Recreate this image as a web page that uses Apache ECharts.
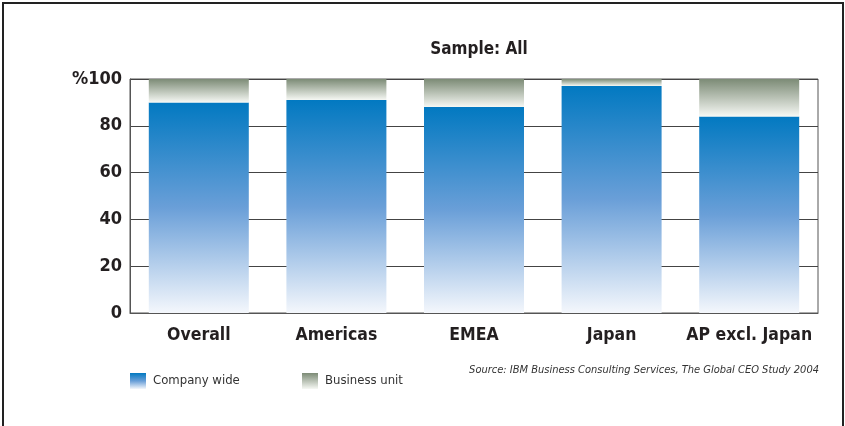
<!DOCTYPE html>
<html>
<head>
<meta charset="utf-8">
<script src="https://cdn.jsdelivr.net/npm/echarts@6/dist/echarts.min.js"></script>
<style>
html,body{margin:0;padding:0;background:#fff;}
#c{width:845px;height:426px;}
</style>
</head>
<body>
<div id="c"></div>
<script>
const categories = ['Overall', 'Americas', 'EMEA', 'Japan', 'AP excl. Japan'];
const companyWide = [90, 91, 88, 97, 84];
const businessUnit = [10, 9, 12, 3, 16];
const yTickLabels = ['0', '20', '40', '60', '80', '%100'];
const titleText = 'Sample: All';
const sourceText = 'Source: IBM Business Consulting Services, The Global CEO Study 2004';

const FONT = '"DejaVu Sans Condensed", "Liberation Sans Narrow", sans-serif';
const TXT = '#231f20';

const blueGrad = new echarts.graphic.LinearGradient(0, 0, 0, 1, [
  {offset: 0, color: '#0279c1'},
  {offset: 0.5, color: '#6a9fd8'},
  {offset: 1, color: '#f4f7fc'}
]);
const grayGrad = new echarts.graphic.LinearGradient(0, 0, 0, 1, [
  {offset: 0, color: '#7c8b76'},
  {offset: 1, color: '#f6f8f4'}
]);

const chart = echarts.init(document.getElementById('c'), null, {renderer: 'canvas'});
chart.setOption({
  animation: false,
  backgroundColor: '#fff',
  title: {
    text: titleText,
    left: 474,
    textAlign: 'center',
    top: 36,
    textStyle: {fontFamily: FONT, fontWeight: 'bold', fontSize: 17, color: TXT}
  },
  legend: [
    {
      data: ['Company wide'], left: 130, top: 373, padding: 0, itemWidth: 16, itemHeight: 16, itemGap: 0,
      icon: 'rect',
      textStyle: {fontFamily: FONT, fontSize: 13, color: '#333', padding: [6, 0, 0, 2]}
    },
    {
      data: ['Business unit'], left: 302, top: 373, padding: 0, itemWidth: 16, itemHeight: 16, itemGap: 0,
      icon: 'rect',
      textStyle: {fontFamily: FONT, fontSize: 13, color: '#333', padding: [6, 0, 0, 2]}
    }
  ],
  grid: {
    left: 130, right: 27, top: 79, bottom: 113,
    show: true, borderColor: '#555', borderWidth: 1, backgroundColor: 'transparent'
  },
  xAxis: {
    type: 'category',
    data: categories,
    axisLine: {show: true, lineStyle: {color: '#555', width: 1}},
    axisTick: {show: false},
    axisLabel: {interval: 0, fontFamily: FONT, fontWeight: 'bold', fontSize: 17.5, color: TXT, margin: 13}
  },
  yAxis: {
    type: 'value',
    min: 0, max: 100, interval: 20,
    axisLine: {show: true, lineStyle: {color: '#555'}},
    axisTick: {show: false},
    splitLine: {show: true, lineStyle: {color: '#444', width: 1}},
    axisLabel: {
      fontFamily: FONT, fontWeight: 'bold', fontSize: 18, color: TXT, margin: 8,
      formatter: function (v, i) { return yTickLabels[i]; }
    }
  },
  series: [
    {
      name: 'Company wide', type: 'bar', stack: 'total', data: companyWide,
      barWidth: 100, itemStyle: {color: blueGrad}
    },
    {
      name: 'Business unit', type: 'bar', stack: 'total', data: businessUnit,
      barWidth: 100, itemStyle: {color: grayGrad}
    }
  ],
  graphic: [
    {
      type: 'rect', silent: true, z: 100,
      shape: {x: 3, y: 3, width: 840, height: 440},
      style: {fill: 'none', stroke: '#222', lineWidth: 2}
    },
    {
      type: 'text', right: 26, top: 365, z: 100,
      style: {text: sourceText, fontFamily: FONT, fontStyle: 'italic', fontSize: 11, fill: '#333'}
    }
  ]
});
</script>
</body>
</html>
